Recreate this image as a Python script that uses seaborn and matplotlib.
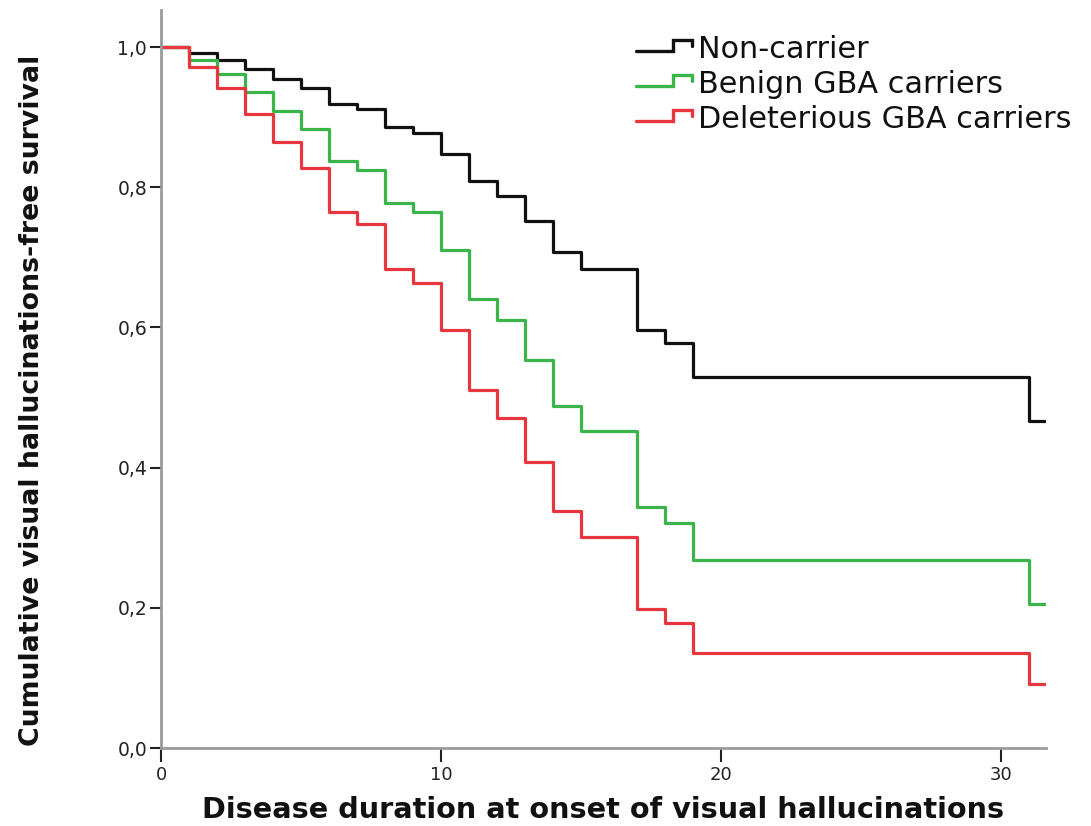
import matplotlib
matplotlib.use("Agg")
import matplotlib.pyplot as plt
from matplotlib.lines import Line2D
from matplotlib.legend_handler import HandlerBase
import seaborn as sns
import pandas as pd

# ---- data ----
times = [0, 1, 2, 3, 4, 5, 6, 7, 8, 9, 10, 11, 12, 13, 14, 15, 17, 18, 19, 31, 31.6]
non_carrier = [1.0, 0.991, 0.981, 0.968, 0.955, 0.941, 0.919, 0.912, 0.886, 0.877,
               0.848, 0.809, 0.787, 0.752, 0.708, 0.683, 0.597, 0.578, 0.530, 0.466, 0.466]
benign = [1.0, 0.981, 0.961, 0.936, 0.909, 0.883, 0.837, 0.825, 0.778, 0.764,
          0.710, 0.641, 0.610, 0.553, 0.488, 0.452, 0.344, 0.321, 0.268, 0.206, 0.206]
deleterious = [1.0, 0.972, 0.941, 0.905, 0.864, 0.828, 0.764, 0.748, 0.684, 0.664,
               0.596, 0.511, 0.471, 0.408, 0.338, 0.301, 0.198, 0.179, 0.136, 0.091, 0.091]
groups = ["Non-carrier", "Benign GBA carriers", "Deleterious GBA carriers"]
colors = ["#111111", "#3ab54a", "#e8363e"]
xticks = [0, 10, 20, 30]
yticks = [0.0, 0.2, 0.4, 0.6, 0.8, 1.0]
ytick_labels = ["0,0", "0,2", "0,4", "0,6", "0,8", "1,0"]

rows = []
for g, vals in zip(groups, [non_carrier, benign, deleterious]):
    for t, v in zip(times, vals):
        rows.append({"time": t, "surv": v, "group": g})
df = pd.DataFrame(rows)

sns.set_theme(style="white")
plt.rcParams["font.family"] = ["DejaVu Sans"]

fig = plt.figure(figsize=(10.91, 8.26), dpi=100)
ax = fig.add_axes([0.1476, 0.0944, 0.9588 - 0.1476, 0.988 - 0.0944])

sns.lineplot(data=df, x="time", y="surv", hue="group", hue_order=groups,
             palette=colors, drawstyle="steps-post", estimator=None,
             linewidth=2.3, ax=ax, legend=False)

ax.set_xlim(0, 31.6)
ax.set_ylim(0, 1.053)
ax.set_xticks(xticks)
ax.set_xticklabels([str(x) for x in xticks])
ax.set_yticks(yticks)
ax.set_yticklabels(ytick_labels)

for s in ["top", "right"]:
    ax.spines[s].set_visible(False)
for s in ["left", "bottom"]:
    ax.spines[s].set_color("#9a9a9a")
    ax.spines[s].set_linewidth(2.0)

ax.tick_params(axis="x", direction="out", length=10, width=1.5, color="#222222",
               labelsize=13, pad=3, bottom=True, labelcolor="#222222")
ax.tick_params(axis="y", direction="out", length=8, width=1.5, color="#222222",
               labelsize=13.5, pad=2, left=True, labelcolor="#222222")

ax.set_xlabel("Disease duration at onset of visual hallucinations",
              fontsize=20.7, fontweight="bold", color="#111111")
ax.set_ylabel("Cumulative visual hallucinations-free survival",
              fontsize=19.3, fontweight="bold", color="#111111")
ax.yaxis.set_label_coords(-0.131, 0.4715)
ax.xaxis.set_label_coords(0.5, -0.065)


class StepHandler(HandlerBase):
    def create_artists(self, legend, orig_handle, xdescent, ydescent, width,
                       height, fontsize, trans):
        x0 = -xdescent
        xm = x0 + width * 0.66
        x1 = x0 + width
        ylo = -ydescent + height * 0.3
        yhi = -ydescent + height * 0.85
        ymid = -ydescent + height * 0.55
        ln = Line2D([x0, xm, xm, x1, x1], [ylo, ylo, yhi, yhi, ymid],
                    color=orig_handle.get_color(), linewidth=2.4,
                    solid_joinstyle="miter")
        ln.set_transform(trans)
        return [ln]


handles = [Line2D([0], [0], color=c) for c in colors]
leg = fig.legend(handles, groups, loc="upper left", bbox_to_anchor=(0.583, 0.958),
                 frameon=False, fontsize=21.8, handler_map={Line2D: StepHandler()},
                 handlelength=1.85, handletextpad=0.2, labelspacing=0.2,
                 borderpad=0, borderaxespad=0)
for t in leg.get_texts():
    t.set_color("#111111")

fig.savefig("out.png", dpi=100)
